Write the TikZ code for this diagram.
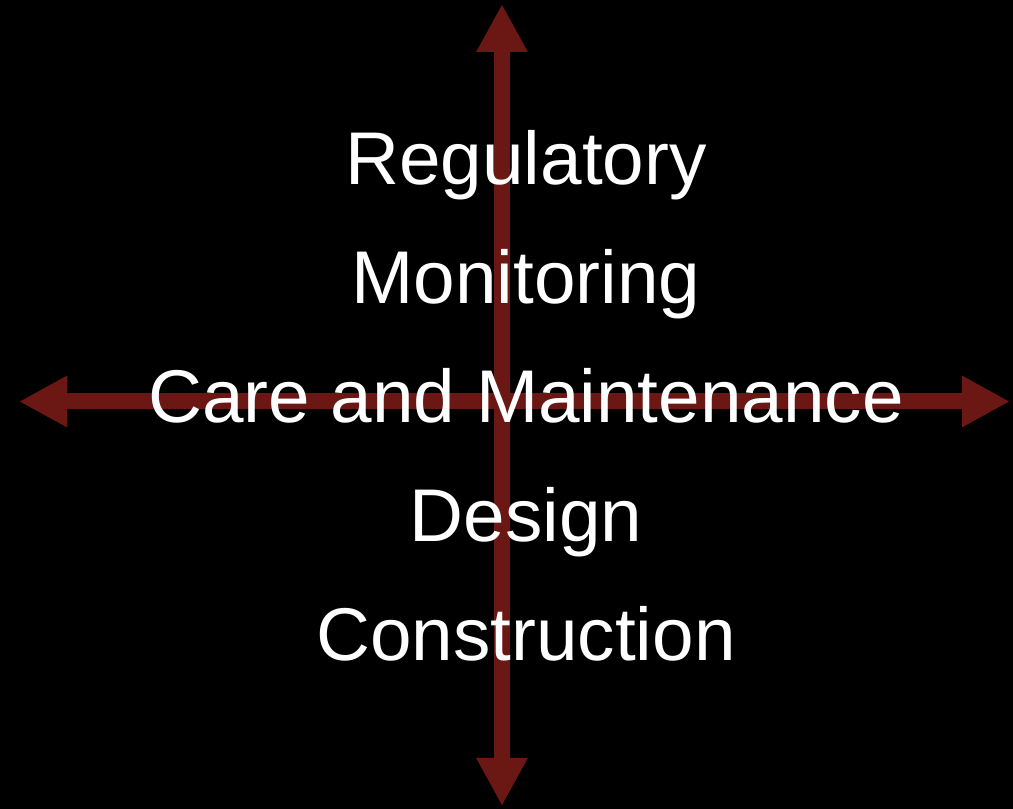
\documentclass[tikz,border=0pt]{standalone}
\usepackage{fontspec}
\setmainfont{Liberation Sans}
\usetikzlibrary{arrows.meta}
\definecolor{axisred}{RGB}{107,24,21}
\tikzset{
  axis/.style={draw=axisred, line width=16pt, {Triangle[width=48pt,length=48pt]}-{Triangle[width=48pt,length=48pt]}, color=axisred},
  label/.style={text=white, font=\fontsize{74.7}{80}\selectfont, anchor=base, inner sep=0pt}
}
\begin{document}
\begin{tikzpicture}[x=1pt,y=1pt]
\fill[black] (0,0) rectangle (1013,809);
\useasboundingbox (0,0) rectangle (1013,809);
\coordinate (top) at (502,805);
\coordinate (bottom) at (502,3);
\coordinate (left) at (19,407.5);
\coordinate (right) at (1010,407.5);
\draw[axis] (top) -- (bottom);
\draw[axis] (left) -- (right);
\node[label] (reg) at (526,624) {Regulatory};
\node[label] (mon) at (526,505) {Monitoring};
\node[label] (care) at (526,386) {Care and Maintenance};
\node[label] (des) at (526,267) {Design};
\node[label] (con) at (526,148) {Construction};
\end{tikzpicture}
\end{document}
